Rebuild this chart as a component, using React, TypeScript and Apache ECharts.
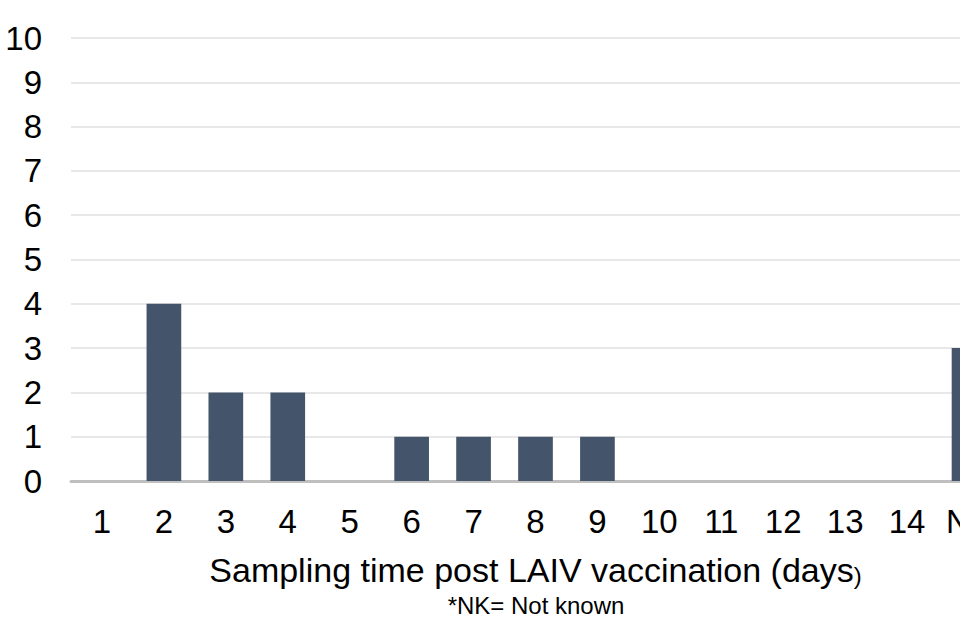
import React, { useEffect, useRef } from "react";
import * as echarts from "echarts";

const categories = ["1", "2", "3", "4", "5", "6", "7", "8", "9", "10", "11", "12", "13", "14", "NK"];
const counts = [0, 4, 2, 2, 0, 1, 1, 1, 1, 0, 0, 0, 0, 0, 3];
const axisTitle = "Sampling time post LAIV vaccination (days{s|)}";
const footnote = "*NK= Not known";

export default function App() {
  const ref = useRef<HTMLDivElement>(null);
  useEffect(() => {
    document.body.style.margin = "0";
    document.body.style.overflow = "hidden";
    document.documentElement.style.overflow = "hidden";
    const chart = echarts.init(ref.current!, null, { renderer: "svg" });
    chart.setOption({
      animation: false,
      textStyle: { fontFamily: "Liberation Sans, Arial, sans-serif" },
      grid: { left: 71, right: 0, top: 38, bottom: 159, containLabel: false },
      xAxis: {
        type: "category",
        data: categories,
        axisTick: { show: false },
        axisLine: { lineStyle: { color: "#bfbfbf", width: 3 } },
        axisLabel: { color: "#000", fontSize: 33, margin: 24, interval: 0 },
        name: axisTitle,
        nameLocation: "middle",
        nameGap: 72,
        nameTextStyle: {
          color: "#000",
          fontSize: 34,
          rich: { s: { fontSize: 24, color: "#000", padding: [10, 0, 0, 0] } },
        },
      },
      yAxis: {
        type: "value",
        min: 0,
        max: 10,
        interval: 1,
        axisLabel: { color: "#000", fontSize: 33, margin: 29 },
        splitLine: { lineStyle: { color: "#e8e8e8", width: 2 } },
        axisLine: { show: false },
        axisTick: { show: false },
      },
      graphic: [
        {
          type: "text",
          x: 536,
          y: 605,
          style: {
            text: footnote,
            fontSize: 24,
            fill: "#000",
            textAlign: "center",
            textVerticalAlign: "middle",
            fontFamily: "Liberation Sans, Arial, sans-serif",
          },
        },
      ],
      series: [
        {
          type: "bar",
          data: counts,
          barWidth: "56%",
          itemStyle: { color: "#44546a" },
        },
      ],
    });
    return () => chart.dispose();
  }, []);
  return <div ref={ref} style={{ width: 1000, height: 640 }} />;
}
